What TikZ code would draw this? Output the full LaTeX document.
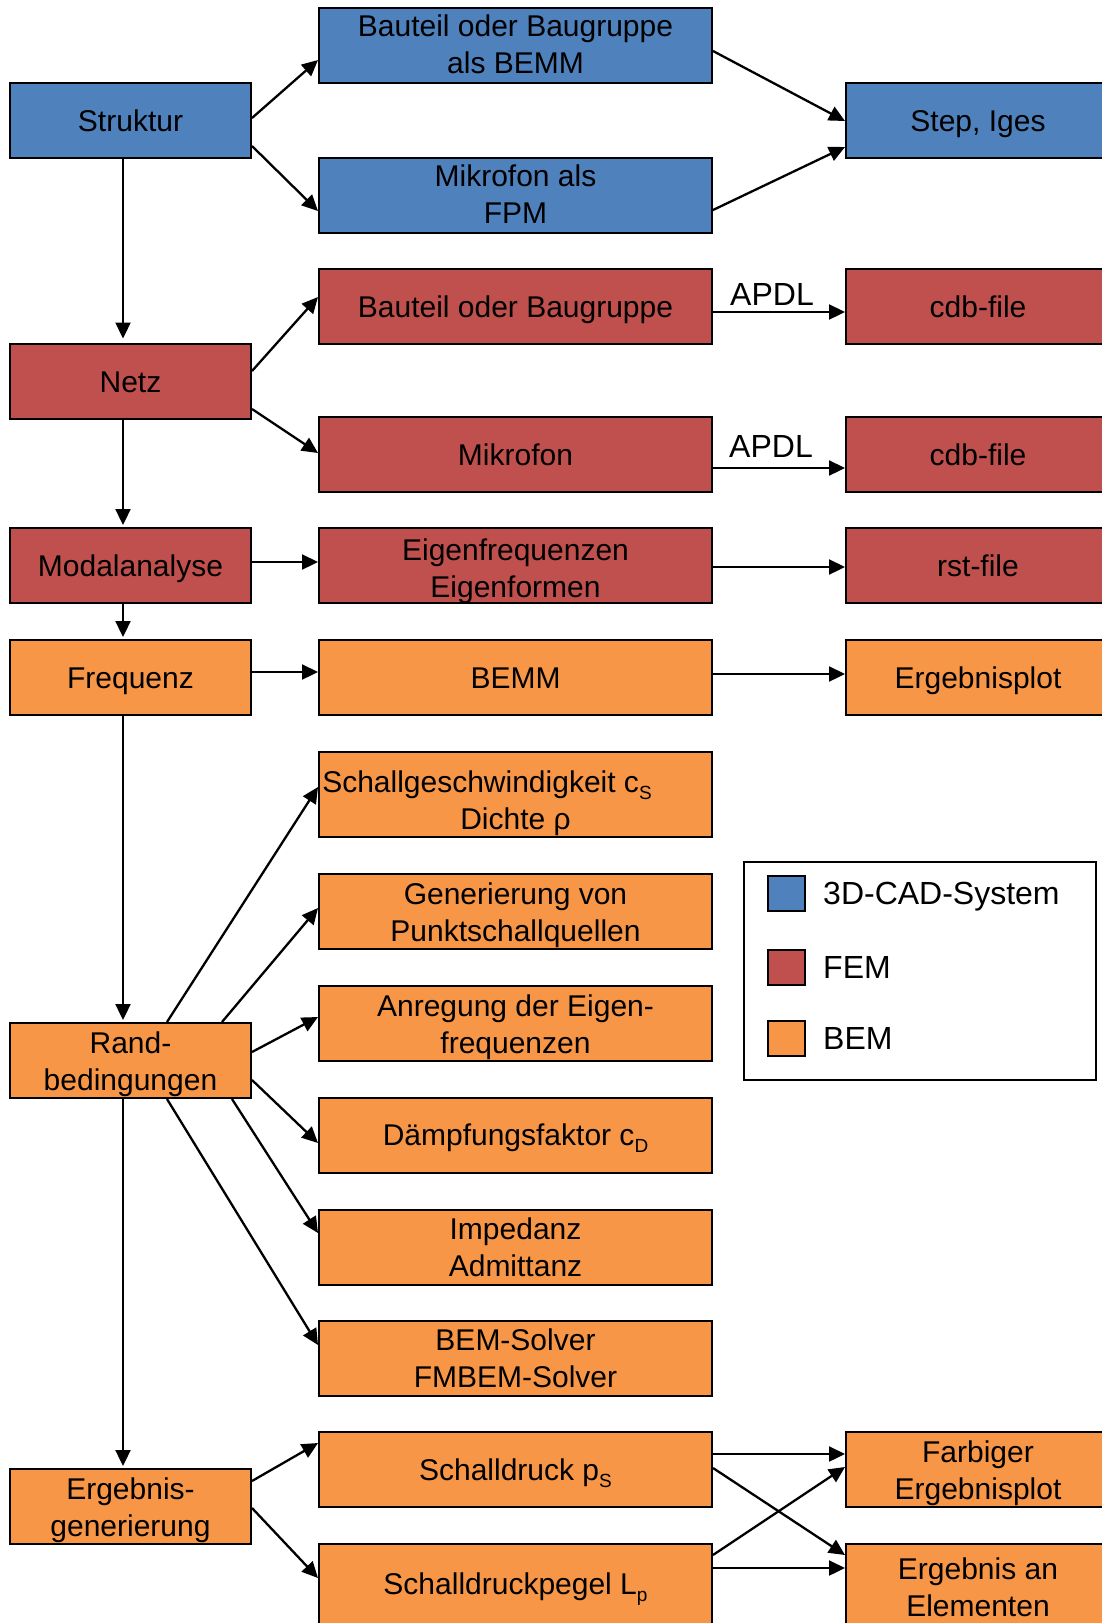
\documentclass[tikz,border=0pt]{standalone}
\usepackage{fontspec}
\setmainfont{Liberation Sans}
\usetikzlibrary{arrows.meta}
\definecolor{cadblue}{HTML}{4F81BD}
\definecolor{femred}{HTML}{C0504D}
\definecolor{bemorange}{HTML}{F79646}
\newcommand\lowsub[1]{\raisebox{-7pt}{\fontsize{19}{19}\selectfont #1}}
\newcommand\mystrut{\rule[-6.5pt]{0pt}{35pt}}
\newcommand\twol[3][4pt]{\raisebox{-#1}[\height][\depth]{\begin{tabular}{@{}c@{}}#2\\#3\end{tabular}}}
\begin{document}
\begin{tikzpicture}[x=1pt,y=-1pt,
  bx/.style={draw=black, line width=2pt, rectangle, inner sep=0pt, align=center, font=\fontsize{30}{37}\selectfont, minimum height=75pt,
    execute at begin node=\mystrut, execute at end node=\mystrut},
  lbx/.style={bx, minimum width=241pt},
  mbx/.style={bx, minimum width=393pt},
  rbx/.style={bx, minimum width=264pt},
  cad/.style={fill=cadblue}, fem/.style={fill=femred}, bem/.style={fill=bemorange},
  arr/.style={-{Triangle[length=16pt,width=15pt]}, line width=2.3pt},
  lbl/.style={font=\fontsize{32}{38}\selectfont, inner sep=0pt},
  lgsq/.style={draw=black, line width=2pt, minimum width=37pt, minimum height=35pt, inner sep=0pt}
]
\useasboundingbox (0,0) rectangle (1101,1623);

\node[lbx,cad] (struk) at (130.5,120.5) {Struktur};
\node[mbx,cad] (bemm1) at (515.5,45.5) {\twol[2pt]{Bauteil oder Baugruppe}{als BEMM}};
\node[mbx,cad] (mik1) at (515.5,195) {\twol[2.5pt]{Mikrofon als}{FPM}};
\node[rbx,cad] (step) at (978,120.5) {Step, Iges};
\node[mbx,fem] (bt2) at (515.5,306.5) {Bauteil oder Baugruppe};
\node[rbx,fem] (cdb1) at (978,306.5) {cdb-file};
\node[lbx,fem] (netz) at (130.5,381) {Netz};
\node[mbx,fem] (mik2) at (515.5,454.5) {Mikrofon};
\node[rbx,fem] (cdb2) at (978,454.5) {cdb-file};
\node[lbx,fem] (modal) at (130.5,565.5) {Modalanalyse};
\node[mbx,fem] (eigen) at (515.5,565.5) {\twol[6pt]{Eigenfrequenzen}{Eigenformen}};
\node[rbx,fem] (rst) at (978,565.5) {rst-file};
\node[lbx,bem] (freq) at (130.5,677.5) {Frequenz};
\node[mbx,bem] (bemm) at (515.5,677.5) {BEMM};
\node[rbx,bem] (eplot) at (978,677.5) {Ergebnisplot};
\node[mbx,bem,minimum height=85pt] (schall) at (515.5,794.5) {\twol[9pt]{Schallgeschwindigkeit c\lowsub{S}\hspace*{57pt}}{Dichte ρ}};
\node[mbx,bem] (gen) at (515.5,911.5) {\twol{Generierung von}{Punktschallquellen}};
\node[mbx,bem] (anr) at (515.5,1023.5) {\twol{Anregung der Eigen-}{frequenzen}};
\node[lbx,bem] (rand) at (130.5,1060.5) {\twol{Rand-}{bedingungen}};
\node[mbx,bem] (daempf) at (515.5,1135) {Dämpfungsfaktor c\lowsub{D}};
\node[mbx,bem] (imp) at (515.5,1247) {\twol{Impedanz}{Admittanz}};
\node[mbx,bem] (solver) at (515.5,1358) {\twol{BEM-Solver}{FMBEM-Solver}};
\node[mbx,bem] (sd) at (515.5,1469.5) {Schalldruck p\lowsub{S}};
\node[lbx,bem] (erg) at (130.5,1506.5) {\twol{Ergebnis-}{generierung}};
\node[mbx,bem,minimum height=84pt] (pegel) at (515.5,1586) {Schalldruckpegel L\lowsub{p}};
\node[rbx,bem] (farb) at (978,1469.5) {\twol{Farbiger}{Ergebnisplot}};
\node[rbx,bem,minimum height=84pt] (elem) at (978,1586) {\twol[5pt]{Ergebnis an}{Elementen}};

% legend
\node[draw=black, line width=2pt, minimum width=352pt, minimum height=218pt, inner sep=0pt] (legend) at (920,971) {};
\node[lgsq,fill=cadblue] (lg1) at (786.5,893.5) {};
\node[lgsq,fill=femred] (lg2) at (786.5,967) {};
\node[lgsq,fill=bemorange] (lg3) at (786.5,1038.5) {};
\node[lbl,anchor=base west] (lt1) at (823,904) {3D-CAD-System};
\node[lbl,anchor=base west] (lt2) at (823,978) {FEM};
\node[lbl,anchor=base west] (lt3) at (823,1049) {BEM};

% connectors
\draw[arr] (struk.east |- 0,118) -- (bemm1.west |- 0,60);
\draw[arr] (struk.east |- 0,146) -- (mik1.west |- 0,211);
\draw[arr] (bemm1.east |- 0,51) -- (step.west |- 0,121);
\draw[arr] (mik1.east |- 0,210) -- (step.west |- 0,147);
\draw[arr,shorten >=4pt] (struk.south -| 123,0) -- (netz.north -| 123,0);
\draw[arr] (netz.east |- 0,371) -- (bt2.west |- 0,297);
\draw[arr] (netz.east |- 0,409) -- (mik2.west |- 0,453);
\draw[arr] (bt2.east |- 0,312) -- (cdb1.west |- 0,312);
\draw[arr] (mik2.east |- 0,468) -- (cdb2.west |- 0,468);
\node[lbl,anchor=base] (apdl1) at (772,305) {APDL};
\node[lbl,anchor=base] (apdl2) at (771,457) {APDL};
\draw[arr,shorten >=2pt] (netz.south -| 123,0) -- (modal.north -| 123,0);
\draw[arr] (modal.east |- 0,562) -- (eigen.west |- 0,562);
\draw[arr] (eigen.east |- 0,567) -- (rst.west |- 0,567);
\draw[arr,shorten >=2pt] (modal.south -| 123,0) -- (freq.north -| 123,0);
\draw[arr] (freq.east |- 0,672) -- (bemm.west |- 0,672);
\draw[arr] (bemm.east |- 0,674) -- (eplot.west |- 0,674);
\draw[arr,shorten >=2pt] (freq.south -| 123,0) -- (rand.north -| 123,0);
\draw[arr] (rand.north -| 167,0) -- (schall.west |- 0,787);
\draw[arr] (rand.north -| 222,0) -- (gen.west |- 0,908);
\draw[arr] (rand.east |- 0,1052) -- (anr.west |- 0,1017);
\draw[arr] (rand.east |- 0,1080) -- (daempf.west |- 0,1143);
\draw[arr] (rand.south -| 232,0) -- (imp.west |- 0,1233);
\draw[arr] (rand.south -| 167,0) -- (solver.west |- 0,1345);
\draw[arr,shorten >=2pt] (rand.south -| 123,0) -- (erg.north -| 123,0);
\draw[arr] (erg.east |- 0,1481) -- (sd.west |- 0,1443);
\draw[arr] (erg.east |- 0,1508) -- (pegel.west |- 0,1578);
\draw[arr] (sd.east |- 0,1454) -- (farb.west |- 0,1454);
\draw[arr] (sd.east |- 0,1468) -- (elem.west |- 0,1555);
\draw[arr] (pegel.east |- 0,1555) -- (farb.west |- 0,1467);
\draw[arr] (pegel.east |- 0,1568) -- (elem.west |- 0,1568);
\end{tikzpicture}
\end{document}
